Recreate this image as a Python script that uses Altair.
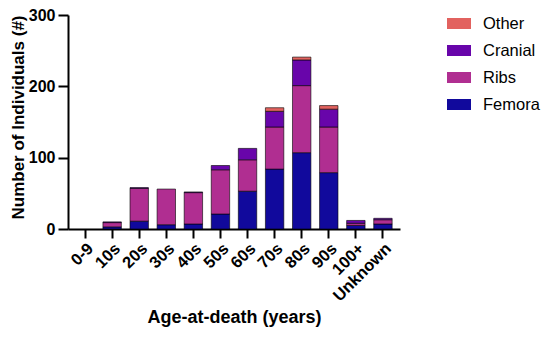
import altair as alt
import pandas as pd

ages = ["0-9", "10s", "20s", "30s", "40s", "50s", "60s", "70s", "80s", "90s", "100+", "Unknown"]
femora = [0, 3, 11, 6, 7, 21, 53, 84, 107, 79, 5, 7]
ribs = [0, 6, 46, 50, 44, 62, 44, 59, 94, 64, 3, 6]
cranial = [0, 1, 1, 0, 1, 6, 16, 22, 36, 25, 4, 2]
other = [0, 0, 0, 0, 0, 0, 0, 5, 4, 5, 0, 0]

series = ["Femora", "Ribs", "Cranial", "Other"]
colors = ["#11099C", "#B02E91", "#6805AA", "#E2625F"]
legend_order = ["Other", "Cranial", "Ribs", "Femora"]

rows = []
for i, a in enumerate(ages):
    for k, (name, vals) in enumerate(zip(series, [femora, ribs, cranial, other])):
        rows.append({"age": a, "part": name, "value": vals[i], "ord": k})
df = pd.DataFrame(rows)

FONT = "Liberation Sans"

chart = alt.Chart(df).mark_bar(stroke="black", strokeWidth=0.6).encode(
    x=alt.X("age:N", sort=ages,
            scale=alt.Scale(domain=ages, paddingInner=0.32, paddingOuter=0.29),
            axis=alt.Axis(title="Age-at-death (years)", labelAngle=-45,
                          labelFontSize=16.5, labelFontWeight="bold", labelColor="black",
                          titleFontSize=18, titleFontWeight="bold", titleColor="black",
                          domainColor="black", domainWidth=2, tickColor="black", tickWidth=2,
                          tickSize=9, labelPadding=2, labelFont=FONT, titleFont=FONT,
                          titleBaseline="alphabetic", titleY=93, titleX=166)),
    y=alt.Y("value:Q", stack="zero",
            scale=alt.Scale(domain=[0, 300]),
            axis=alt.Axis(title="Number of Individuals (#)", values=[0, 100, 200, 300], grid=False,
                          labelFontSize=16, labelFontWeight="bold", labelColor="black",
                          titleFontSize=17, titleFontWeight="bold", titleColor="black",
                          domainColor="black", domainWidth=2, tickColor="black", tickWidth=2,
                          tickSize=10, labelPadding=3, labelFont=FONT, titleFont=FONT,
                          titleX=-50, titleY=102, titleAlign="center", titleBaseline="middle")),
    color=alt.Color("part:N",
                    scale=alt.Scale(domain=series, range=colors),
                    sort=legend_order,
                    legend=alt.Legend(title=None,
                                      symbolType="M-1,-0.46L1,-0.46L1,0.46L-1,0.46Z",
                                      symbolSize=576, symbolStrokeWidth=0,
                                      labelFontSize=16.5, labelFont=FONT, labelColor="black",
                                      labelOffset=12, rowPadding=6, padding=0,
                                      orient="none", legendX=379, legendY=-3.5,
                                      values=legend_order)),
    order=alt.Order("ord:Q"),
).transform_filter(
    alt.datum.value > 0
).properties(
    width=332, height=214,
    autosize=alt.AutoSizeParams(type="none"),
    padding={"left": 60, "top": 7, "right": 142, "bottom": 101},
).configure_view(stroke=None)

chart.save("out.html", embed_options={"renderer": "svg", "actions": False})
